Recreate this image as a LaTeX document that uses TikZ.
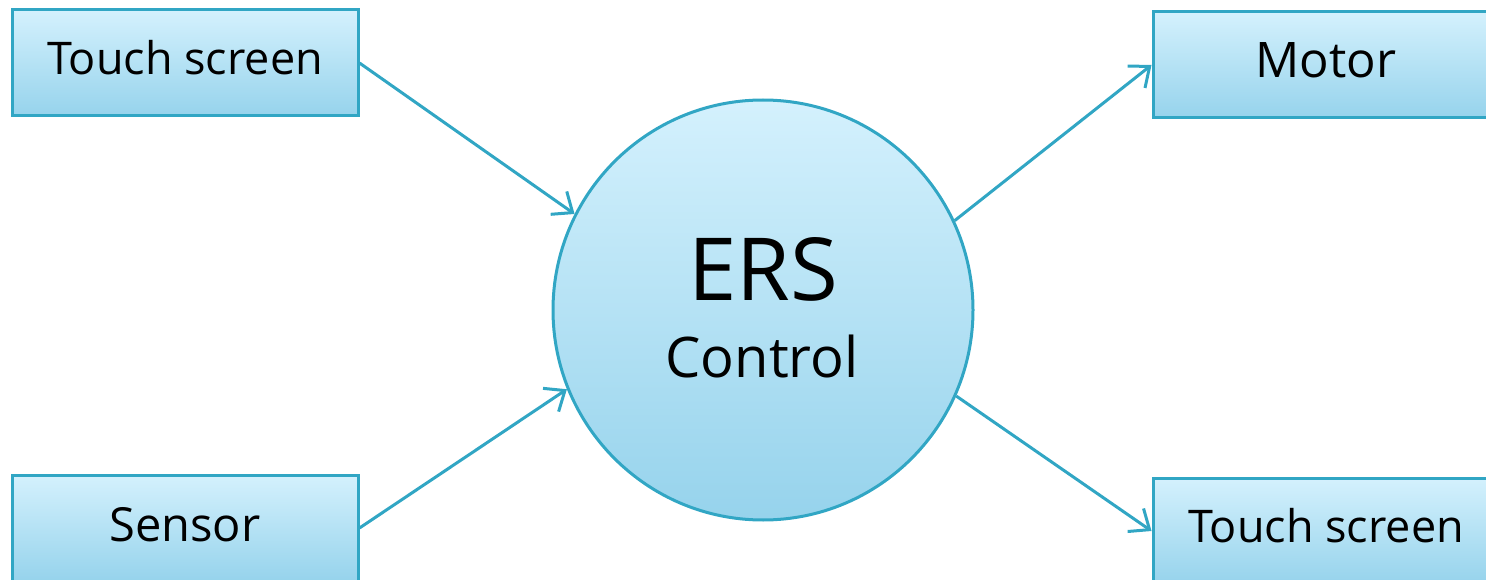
\documentclass[tikz,border=0pt]{standalone}
\usepackage{fontspec}
\setmainfont{Open Sans}
\usetikzlibrary{arrows.meta}
\definecolor{edge}{HTML}{31A6C4}
\definecolor{topc}{HTML}{D4F1FD}
\definecolor{botc}{HTML}{96D3EC}
\newcommand{\boxtxt}[3]{\raisebox{#1}[0pt][0pt]{\fontsize{#2}{#2}\selectfont #3}}
\begin{document}
\begin{tikzpicture}[x=1pt,y=-1pt,
  box/.style={rectangle, draw=edge, line width=3pt, top color=topc, bottom color=botc,
    minimum width=346pt, minimum height=106pt, inner sep=0pt, text=black},
  conn/.style={draw=edge, line width=3pt, -{Straight Barb[length=17pt,width=28pt,line width=3pt]}},
  lbl/.style={anchor=base, inner sep=0pt, text=black},
  ]
\useasboundingbox (0,0) rectangle (1486,580);
\clip (0,0) rectangle (1486,580);
\node[box] (ts1) at (185,63) {\boxtxt{-12pt}{45}{Touch screen}};
\node[box] (sen) at (185,528) {\boxtxt{-13pt}{47}{Sensor}};
\node[box] (mot) at (1326,65) {\boxtxt{-13pt}{49}{Motor}};
\node[box] (ts2) at (1326,531) {\boxtxt{-11pt}{45}{Touch screen}};
\node[circle, draw=edge, line width=3pt, top color=topc, bottom color=botc,
  minimum size=420pt, inner sep=0pt] (ers) at (763,310) {};
\node[lbl] (ersT) at (763,300) {\fontsize{87}{90}\selectfont ERS};
\node[lbl] (ctlT) at (762,377) {\fontsize{56}{60}\selectfont Control};
\draw[conn] (ts1.east) -- (ers.153.4);
\draw[conn] (sen.east) -- (ers.202.6);
\draw[conn] (ers.25.3) -- (mot.west);
\draw[conn] (ers.-24) -- (ts2.west);
\end{tikzpicture}
\end{document}
